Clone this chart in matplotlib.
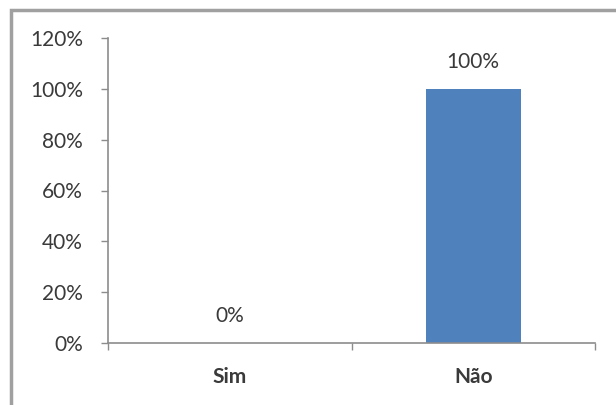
# -*- coding: utf-8 -*-
import matplotlib
matplotlib.use("Agg")
import matplotlib.pyplot as plt
from matplotlib.patches import Rectangle

# Dados
categorias = ["Sim", "Não"]
valores = [0.0, 1.0]
rotulos = ["0%", "100%"]
ticks_y = [0, 0.2, 0.4, 0.6, 0.8, 1.0, 1.2]
ticks_y_txt = ["0%", "20%", "40%", "60%", "80%", "100%", "120%"]

plt.rcParams["font.family"] = ["Lato", "DejaVu Sans"]
cor_texto = "#3a3a3a"
cor_eixo = "#8c8c8c"

fig = plt.figure(figsize=(6.16, 4.05), dpi=100)
fig.patches.append(Rectangle((11 / 616, -0.1), 1.2, (405 - 10) / 405 + 0.1,
                             transform=fig.transFigure, fill=False,
                             edgecolor="#a0a0a0", linewidth=2.5))

ax = fig.add_axes([108 / 616, 62 / 405, (595 - 108) / 616, (343 - 38) / 405])
x = range(len(categorias))
barras = ax.bar(x, valores, width=0.39, color="#4f81bd")

# Rótulos de dados
for xi, v, r in zip(x, valores, rotulos):
    ax.annotate(r, (xi, v), xytext=(0, 12), textcoords="offset points",
                ha="center", va="bottom", fontsize=15, color=cor_texto)

ax.set_xlim(-0.5, 1.5)
ax.set_ylim(0, 1.2)
ax.set_yticks(ticks_y)
ax.set_yticklabels(ticks_y_txt, fontsize=15, color=cor_texto)
ax.set_xticks([-0.5, 0.5, 1.5])
ax.set_xticklabels([])
ax.set_xticks(list(x), minor=True)
ax.set_xticklabels(categorias, minor=True, fontsize=15, fontweight="bold",
                   color=cor_texto)
ax.tick_params(axis="x", which="minor", length=0, pad=17)
ax.tick_params(axis="both", which="major", direction="out", length=5,
               color=cor_eixo, width=1)
ax.tick_params(axis="y", pad=13)

for s in ["top", "right"]:
    ax.spines[s].set_visible(False)
for s in ["left", "bottom"]:
    ax.spines[s].set_color(cor_eixo)
    ax.spines[s].set_linewidth(1.2)

fig.savefig("out.png", dpi=100)
